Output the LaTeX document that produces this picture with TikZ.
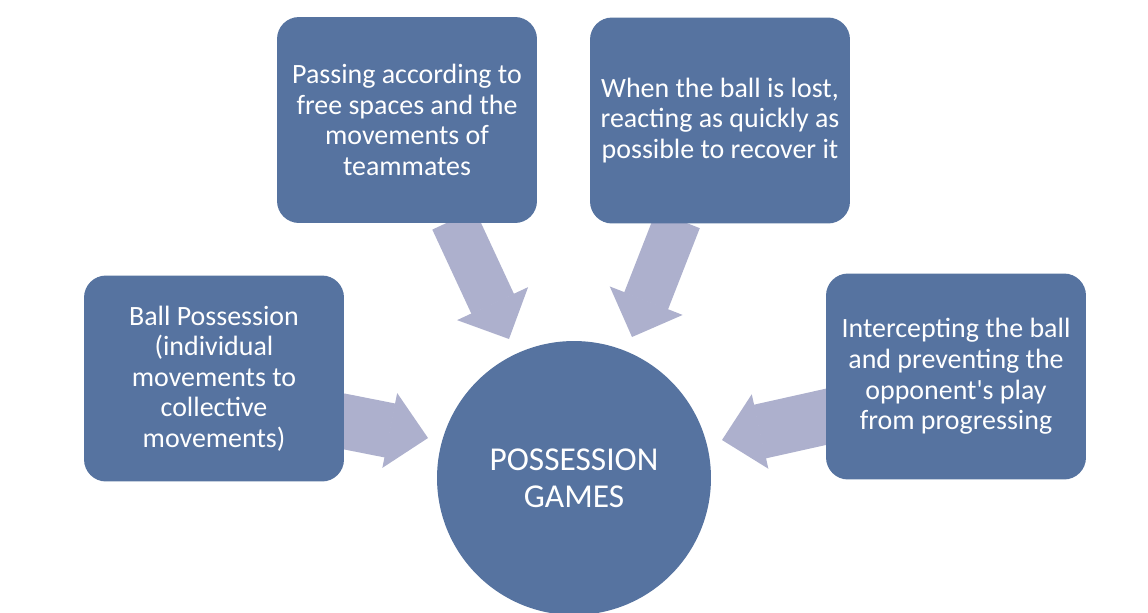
\documentclass[tikz,border=0pt]{standalone}
\usepackage{fontspec}
\setmainfont{Carlito}[Ligatures=TeXOff]
\usetikzlibrary{arrows.meta,backgrounds}
\definecolor{boxblue}{RGB}{86,115,160}
\definecolor{arrowlav}{RGB}{173,176,205}
\tikzset{
  infobox/.style={draw=none, fill=boxblue, rounded corners=0.44cm,
    minimum width=5.2cm, minimum height=4.12cm, text=white, align=center,
    inner sep=0pt, font=\fontsize{15.9pt}{17.4pt}\selectfont},
  hub/.style={circle, draw=none, fill=boxblue, minimum size=5.48cm, text=white,
    align=center, inner sep=0pt, font=\fontsize{19pt}{21pt}\selectfont},
  diagarrow/.style={draw=arrowlav, line width=0.94cm, line cap=butt,
    -{Triangle[length=0.78cm 0 0, width=1.56cm 0 0, line width=1pt 0 0, fill=arrowlav]}},
  sidearrow/.style={draw=arrowlav, line width=1.1cm, line cap=butt,
    -{Triangle[length=0.78cm 0 0, width=1.52cm 0 0, line width=1pt 0 0, fill=arrowlav]}}
}
\begin{document}
\begin{tikzpicture}[x=0.02cm, y=-0.02cm]
\useasboundingbox (0,0) rectangle (1148,612);
\node[infobox] (pass) at (407,120) {Passing according to\\free spaces and the\\movements of\\teammates};
\node[infobox] (lost) at (720,120.5) {When the ball is lost,\\reacting as quickly as\\possible to recover it};
\node[infobox] (ball) at (214,378.5) {Ball Possession\\(individual\\movements to\\collective\\movements)};
\node[infobox] (inter) at (956,376.5) {Intercepting the ball\\and preventing the\\opponent's play\\from progressing};
\node[hub] (games) at (574,478) {POSSESSION\\GAMES};
\coordinate (t1) at (453.6,219.7);
\coordinate (h1) at (509,339);
\coordinate (t2) at (677.9,219.6);
\coordinate (h2) at (632,337);
\coordinate (t3) at (339,420.4);
\coordinate (h3) at (428,438);
\coordinate (t4) at (834,415);
\coordinate (h4) at (722,440);
\begin{scope}[on background layer]
\draw[diagarrow] (t1) -- (h1);
\draw[diagarrow] (t2) -- (h2);
\draw[sidearrow] (t3) -- (h3);
\draw[sidearrow] (t4) -- (h4);
\end{scope}
\end{tikzpicture}
\end{document}
